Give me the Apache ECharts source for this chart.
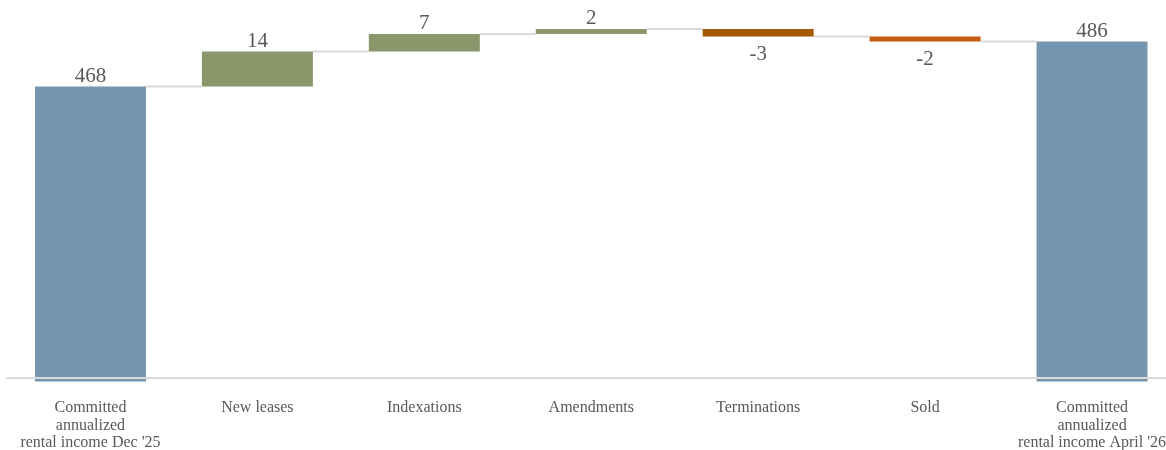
<!DOCTYPE html>
<html><head><meta charset="utf-8">
<script src="https://cdn.jsdelivr.net/npm/echarts@6/dist/echarts.min.js"></script>
<style>html,body{margin:0;padding:0;background:#fff}#c{width:1166px;height:450px}</style>
</head><body><div id="c"></div>
<script>
const categories = ["Committed\nannualized\nrental income Dec '25", "New leases", "Indexations", "Amendments", "Terminations", "Sold", "Committed\nannualized\nrental income April '26"];
const values = [468, 14, 7, 2, -3, -2, 486];
const isTotal = [true, false, false, false, false, false, true];
const barColors = ['#7695AE', '#89976B', '#89976B', '#89976B', '#A55A00', '#C55A11', '#7695AE'];
const yMin = 350, yMax = 500;

// derive waterfall levels
const base = [], visible = [], levels = [];
let run = 0;
values.forEach((v, i) => {
  if (isTotal[i]) { base.push(0); visible.push(v); run = v; }
  else if (v >= 0) { base.push(run); visible.push(v); run += v; }
  else { base.push(run + v); visible.push(-v); run += v; }
  levels.push(run);
});
const connectors = levels.slice(0, -1).map((l, i) => [i, l]);

const BW = 111;
const chart = echarts.init(document.getElementById('c'), null, {renderer: 'canvas'});
chart.setOption({
  animation: false,
  grid: {left: 7, width: 1168.5, top: 6.5, bottom: 68.5, containLabel: false, outerBoundsMode: 'none'},
  xAxis: {
    type: 'category', data: categories, offset: -3.5, z: 5,
    axisLine: {lineStyle: {color: '#d9d9d9', width: 2}},
    axisTick: {show: false},
    axisLabel: {interval: 0, margin: 21.5, fontFamily: 'Liberation Serif', fontSize: 16, lineHeight: 17.5, color: '#595959'}
  },
  yAxis: {type: 'value', min: yMin, max: yMax, show: false, splitLine: {show: false}},
  series: [
    {type: 'bar', stack: 'w', data: base, barWidth: BW, itemStyle: {color: 'transparent'}, silent: true},
    {type: 'bar', stack: 'w', barWidth: BW,
      data: visible.map((v, i) => ({
        value: v,
        itemStyle: {color: barColors[i]},
        label: {show: true, position: values[i] < 0 ? 'bottom' : 'top', distance: values[i] < 0 ? 7 : 0,
          formatter: String(values[i]), fontFamily: 'Liberation Serif', fontSize: 21, color: '#595959'}
      }))
    },
    {type: 'custom', data: connectors, z: 1,
      renderItem: function (params, api) {
        const i = api.value(0), lv = api.value(1);
        const a = api.coord([i, lv]), b = api.coord([i + 1, lv]);
        return {type: 'line', shape: {x1: a[0] + BW / 2, y1: a[1], x2: b[0] - BW / 2, y2: b[1]},
          style: {stroke: '#d9d9d9', lineWidth: 2}};
      }
    }
  ]
});
</script></body></html>
